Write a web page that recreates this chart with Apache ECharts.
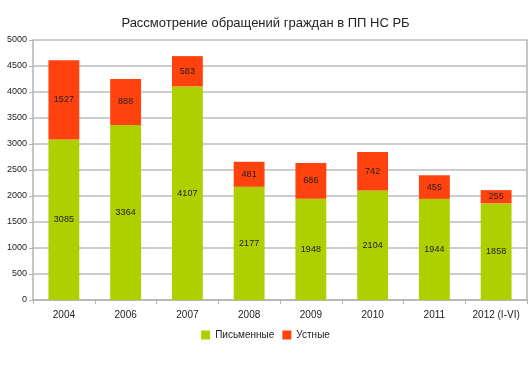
<!DOCTYPE html>
<html><head><meta charset="utf-8">
<script src="https://cdn.jsdelivr.net/npm/echarts@6/dist/echarts.min.js"></script>
<style>html,body{margin:0;padding:0;background:#fff}#c{width:531px;height:369px}</style>
</head><body><div id="c"></div>
<script>
var categories = ['2004','2006','2007','2008','2009','2010','2011','2012 (I-VI)'];
var written = [3085,3364,4107,2177,1948,2104,1944,1858];
var oral = [1527,888,583,481,686,742,455,255];
var seriesNames = ['Письменные','Устные'];
var chart = echarts.init(document.getElementById('c'));
var lbl = {show:true, position:'inside', color:'#222', fontSize:9, fontFamily:'Liberation Sans'};
chart.setOption({
  animation:false,
  title:{text:'Рассмотрение обращений граждан в ПП НС РБ', left:'center', top:12,
    textStyle:{fontSize:13, fontWeight:'normal', color:'#222', fontFamily:'Liberation Sans'}},
  legend:{bottom:24, left:'center', itemWidth:9, itemHeight:9, itemGap:8, icon:'rect',
    textStyle:{fontSize:10, color:'#222', fontFamily:'Liberation Sans'}},
  grid:{left:33, right:4, top:40, bottom:69},
  xAxis:{type:'category', data:categories,
    axisLine:{lineStyle:{color:'#b3b3b3', width:1.5}},
    axisTick:{show:true, alignWithLabel:false, length:4, lineStyle:{color:'#b3b3b3'}},
    axisLabel:{fontSize:10, color:'#222', margin:10, fontFamily:'Liberation Sans'}},
  yAxis:[{type:'value', min:0, max:5000, interval:500,
    axisLine:{show:true, lineStyle:{color:'#b3b3b3', width:1.5}},
    axisTick:{show:true, length:4, lineStyle:{color:'#b3b3b3'}},
    splitLine:{lineStyle:{color:'#bdbdbd', width:1.5}},
    axisLabel:{fontSize:9, color:'#222', margin:6, fontFamily:'Liberation Sans', formatter:function(v){return String(v);}}},
    {type:'value', min:0, max:5000, interval:500, position:'right',
    axisLine:{show:true, lineStyle:{color:'#b3b3b3', width:1.5}},
    axisTick:{show:false}, splitLine:{show:false}, axisLabel:{show:false}}],
  series:[
    {name:seriesNames[0], type:'bar', stack:'a', data:written, barWidth:'50%',
     itemStyle:{color:'#aecf00'}, label:lbl},
    {name:seriesNames[1], type:'bar', stack:'a', data:oral, barWidth:'50%',
     itemStyle:{color:'#ff420e'}, label:lbl}
  ]
});
</script></body></html>
